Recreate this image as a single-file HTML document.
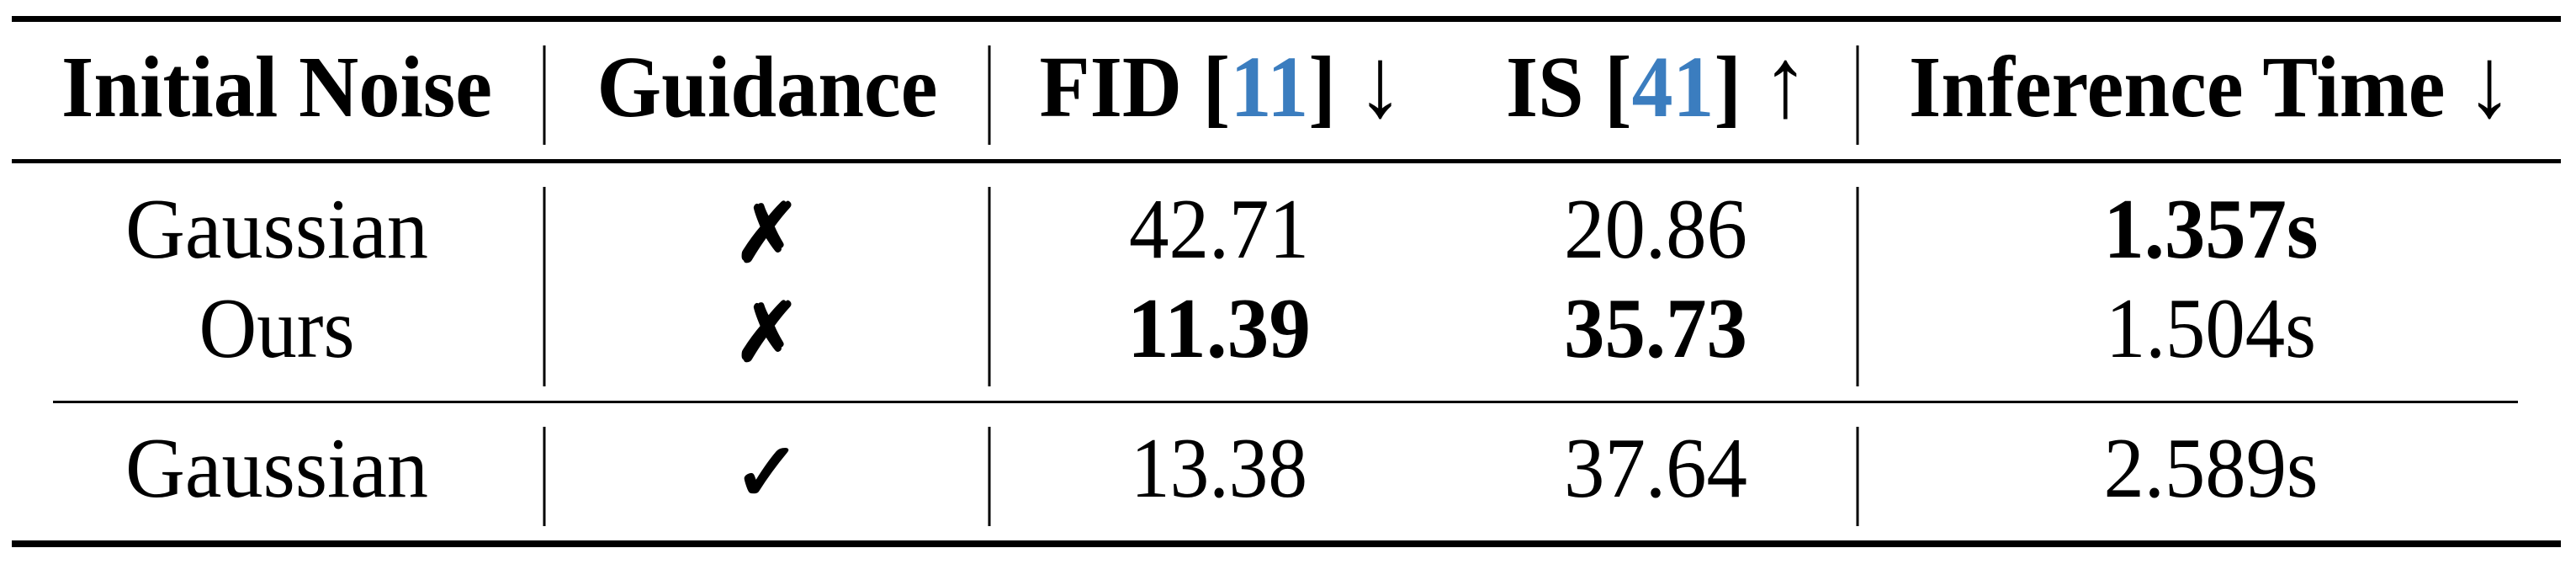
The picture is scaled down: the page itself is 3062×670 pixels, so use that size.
<!DOCTYPE html>
<html><head><meta charset="utf-8"><style>
html,body{margin:0;padding:0;background:#fff;}
svg{display:block}
text{font-family:"Liberation Serif","DejaVu Serif",serif;fill:#000;}
.h{font-weight:bold;font-size:104px;}
.c{font-size:102px;}
.b{font-weight:bold;}
.mk{font-family:"DejaVu Sans",sans-serif;font-size:96px;stroke:#000;stroke-width:3px;}
.ar{font-weight:normal;font-size:118px;}
</style></head><body>
<svg width="3062" height="670" viewBox="0 0 3062 670">
<rect x="14" y="19" width="3030" height="7" fill="#000"/>
<rect x="14" y="189" width="3030" height="5" fill="#000"/>
<rect x="63" y="476" width="2930" height="3" fill="#000"/>
<rect x="14" y="642" width="3030" height="8" fill="#000"/>
<g stroke="#000" stroke-width="3">
<line x1="647" y1="54" x2="647" y2="172"/><line x1="1176" y1="54" x2="1176" y2="172"/><line x1="2208" y1="54" x2="2208" y2="172"/>
<line x1="647" y1="222" x2="647" y2="459"/><line x1="1176" y1="222" x2="1176" y2="459"/><line x1="2208" y1="222" x2="2208" y2="459"/>
<line x1="647" y1="507" x2="647" y2="625"/><line x1="1176" y1="507" x2="1176" y2="625"/><line x1="2208" y1="507" x2="2208" y2="625"/>
</g>
<g text-anchor="middle">
<text class="h" x="329" y="138" textLength="512" lengthAdjust="spacingAndGlyphs">Initial Noise</text>
<text class="h" x="912" y="138" textLength="405" lengthAdjust="spacingAndGlyphs">Guidance</text>
<text class="h" x="1452" y="138" textLength="433" lengthAdjust="spacingAndGlyphs">FID [<tspan fill="#3b7dbf">11</tspan>] <tspan class="ar">↓</tspan></text>
<text class="h" x="1970" y="138" textLength="360" lengthAdjust="spacingAndGlyphs">IS [<tspan fill="#3b7dbf">41</tspan>] <tspan class="ar">↑</tspan></text>
<text class="h" x="2628" y="138" textLength="718" lengthAdjust="spacingAndGlyphs">Inference Time <tspan class="ar">↓</tspan></text>
</g>
<g text-anchor="middle">
<text class="c" x="329" y="306" textLength="360" lengthAdjust="spacingAndGlyphs">Gaussian</text>
<text class="mk" x="912" y="310">✗</text>
<text class="c" x="1449" y="306" textLength="214" lengthAdjust="spacingAndGlyphs">42.71</text>
<text class="c" x="1968" y="306" textLength="218" lengthAdjust="spacingAndGlyphs">20.86</text>
<text class="c b" x="2628" y="306" textLength="255" lengthAdjust="spacingAndGlyphs">1.357s</text>
</g>
<g text-anchor="middle">
<text class="c" x="329" y="424" textLength="185" lengthAdjust="spacingAndGlyphs">Ours</text>
<text class="mk" x="912" y="428">✗</text>
<text class="c b" x="1449" y="424" textLength="218" lengthAdjust="spacingAndGlyphs">11.39</text>
<text class="c b" x="1968" y="424" textLength="218" lengthAdjust="spacingAndGlyphs">35.73</text>
<text class="c" x="2628" y="424" textLength="250" lengthAdjust="spacingAndGlyphs">1.504s</text>
</g>
<g text-anchor="middle">
<text class="c" x="329" y="590" textLength="360" lengthAdjust="spacingAndGlyphs">Gaussian</text>
<text class="mk" x="912" y="594">✓</text>
<text class="c" x="1449" y="590" textLength="210" lengthAdjust="spacingAndGlyphs">13.38</text>
<text class="c" x="1968" y="590" textLength="218" lengthAdjust="spacingAndGlyphs">37.64</text>
<text class="c" x="2628" y="590" textLength="255" lengthAdjust="spacingAndGlyphs">2.589s</text>
</g>
</svg>
</body></html>
